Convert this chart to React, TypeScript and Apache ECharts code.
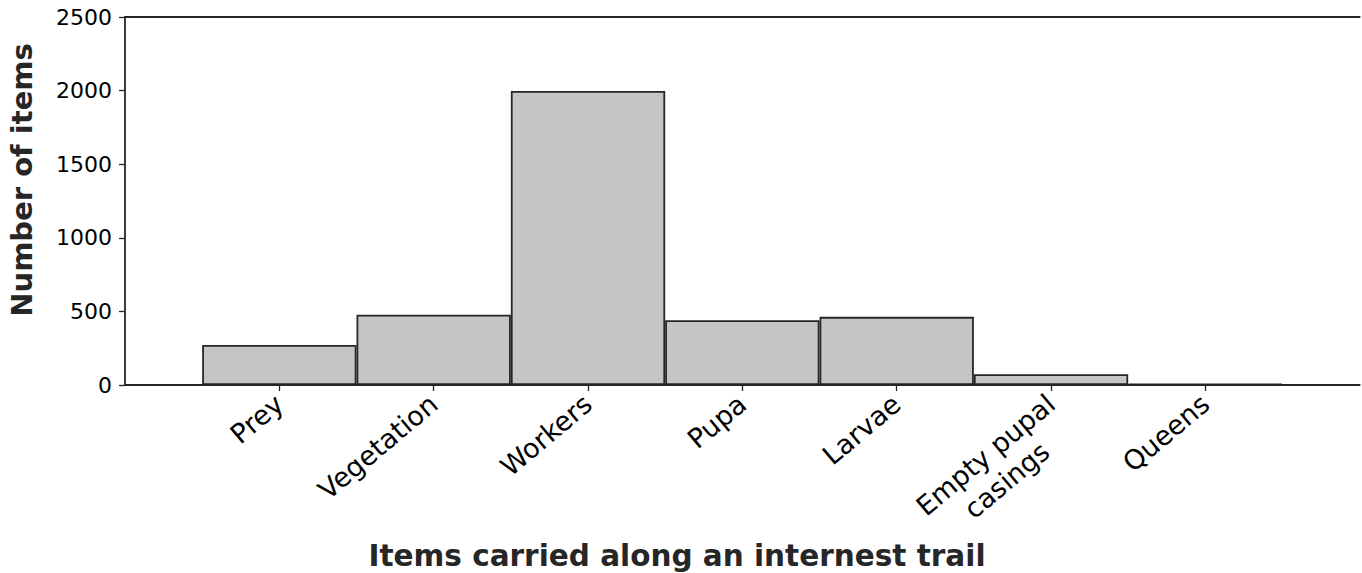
import React, { useEffect, useRef } from "react";
import * as echarts from "echarts";

const categories = ["", "Prey", "Vegetation", "Workers", "Pupa", "Larvae", "Empty pupal\ncasings", "Queens", ""];
const counts = [null, 272, 478, 1997, 440, 463, 73, 7, null];
const yTicks = [0, 500, 1000, 1500, 2000, 2500];
const yTitle = "Number of items";
const xTitle = "Items carried along an internest trail";

const FONT = "DejaVu Sans";
const INK = "#262626";

export default function App() {
  const ref = useRef<HTMLDivElement>(null);
  useEffect(() => {
    if (!ref.current) return;
    const chart = echarts.init(ref.current, null, { renderer: "svg" });
    chart.setOption({
      animation: false,
      grid: { left: 125, right: 0, top: 17, bottom: 188, containLabel: false },
      xAxis: [
        {
          type: "category",
          data: categories,
          boundaryGap: false,
          axisLine: { show: true, lineStyle: { color: INK, width: 1.8 } },
          axisTick: {
            show: true,
            length: 6,
            interval: (_i: number, v: string) => v !== "",
            lineStyle: { color: INK, width: 1.3 },
          },
          axisLabel: {
            interval: 0,
            rotate: 40,
            margin: 15,
            fontFamily: FONT,
            fontSize: 27,
            color: "#000",
            formatter: (v: string) => {
              if (v.indexOf("\n") >= 0) {
                return (
                  "{c| }\n" +
                  v
                    .split("\n")
                    .map((s) => "{c|" + s + "}")
                    .join("\n")
                );
              }
              return v;
            },
            rich: {
              c: { width: 171, align: "center", fontFamily: FONT, fontSize: 27, color: "#000", lineHeight: 33 },
            },
          },
          splitLine: { show: false },
        },
        {
          type: "category",
          data: categories,
          boundaryGap: false,
          position: "top",
          axisLine: { show: true, lineStyle: { color: INK, width: 1.8 } },
          axisTick: { show: false },
          axisLabel: { show: false },
          splitLine: { show: false },
        },
      ],
      yAxis: {
        type: "value",
        min: yTicks[0],
        max: yTicks[yTicks.length - 1],
        interval: 500,
        axisLine: { show: true, lineStyle: { color: INK, width: 1.8 } },
        axisTick: { show: true, length: 6, lineStyle: { color: INK, width: 1.3 } },
        axisLabel: {
          fontFamily: FONT,
          fontSize: 22,
          color: "#000",
          margin: 13,
          formatter: (v: number) => String(v),
        },
        splitLine: { show: false },
      },
      series: [
        {
          type: "bar",
          data: counts,
          barWidth: "100%",
          barCategoryGap: 0,
          itemStyle: { color: "#c5c5c5", borderColor: INK, borderWidth: 1.8 },
        },
      ],
      graphic: [
        {
          type: "text",
          x: 22,
          y: 180,
          rotation: Math.PI / 2,
          style: {
            text: yTitle,
            fontFamily: FONT,
            fontSize: 29,
            fontWeight: "bold",
            fill: INK,
            align: "center",
            verticalAlign: "middle",
          },
        },
        {
          type: "text",
          x: 677,
          y: 556,
          style: {
            text: xTitle,
            fontFamily: FONT,
            fontSize: 29.5,
            fontWeight: "bold",
            fill: INK,
            align: "center",
            verticalAlign: "middle",
          },
        },
      ],
    });
    return () => chart.dispose();
  }, []);
  return (
    <div
      ref={ref}
      style={{ position: "fixed", left: 0, top: 0, width: 1362, height: 573, background: "#fff" }}
    />
  );
}
